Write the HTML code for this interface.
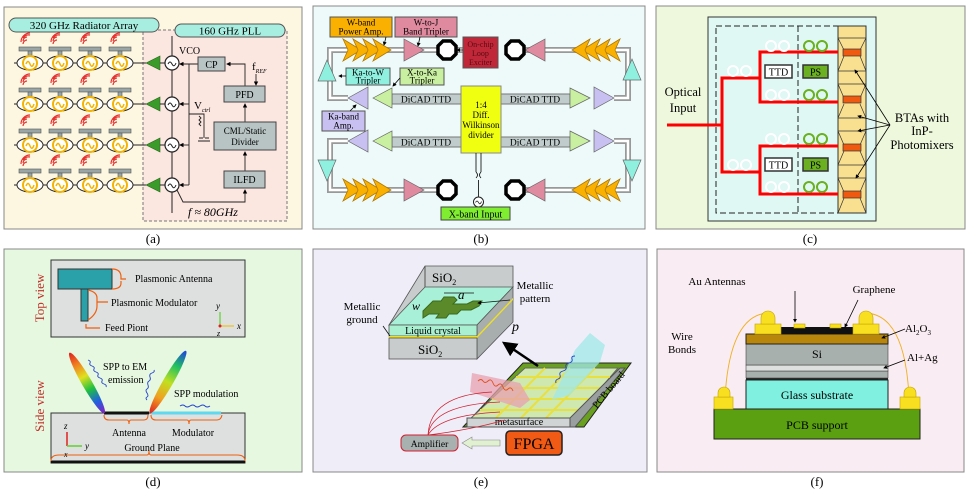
<!DOCTYPE html>
<html><head><meta charset="utf-8"><style>
html,body{margin:0;padding:0;background:#fff;}
svg{display:block;font-family:"Liberation Serif","DejaVu Serif",serif;}
</style></head><body>
<svg width="969" height="492" viewBox="0 0 969 492" xmlns="http://www.w3.org/2000/svg">
<defs>
<g id="osc">
 <path d="M-7,-19 a4,4 0 0 1 4,-4 M-7,-19 m0,-3 a4,4 0 0 1 4,-4 M-7,-25 m0,0 a7,7 0 0 1 7,-3 M-9,-21 a9,9 0 0 1 9,-9" stroke="#e83030" stroke-width="1.2" fill="none"/>
 <rect x="-11" y="-16" width="22" height="4" fill="#9aa6a6" stroke="#555" stroke-width="0.6"/>
 <rect x="-2" y="-12" width="4" height="5" fill="#9aa6a6" stroke="#555" stroke-width="0.6"/>
 <ellipse cx="0" cy="0" rx="13" ry="7" fill="#fff" stroke="#222" stroke-width="1"/>
 <circle cx="0" cy="0" r="7" fill="#fff" stroke="#f5b400" stroke-width="2"/>
 <path d="M-4,1 q2,-5 4,0 t4,-1" stroke="#f5b400" stroke-width="1.5" fill="none"/>
</g>
<g id="vco">
 <circle cx="0" cy="0" r="7" fill="#fff" stroke="#222" stroke-width="1.2"/>
 <path d="M-4,1 q2,-4 4,0 t4,-1" stroke="#222" stroke-width="1" fill="none"/>
</g>
<g id="chevR">
 <path d="M0,-11 L18,0 L0,11 L5,0 Z" fill="#f9b000" stroke="#b07800" stroke-width="0.8"/>
</g>
<g id="oct"><polygon points="-4,-9 4,-9 9,-4 9,4 4,9 -4,9 -9,4 -9,-4" fill="#fff" stroke="#000" stroke-width="3.5"/></g>
<linearGradient id="rb" x1="0" y1="1" x2="0" y2="0">
 <stop offset="0" stop-color="#8a20c0"/><stop offset="0.2" stop-color="#2060e0"/><stop offset="0.4" stop-color="#20c040"/><stop offset="0.6" stop-color="#e0e020"/><stop offset="0.8" stop-color="#f08020"/><stop offset="1" stop-color="#e02020"/>
</linearGradient>
<linearGradient id="rb2" x1="0" y1="1" x2="0" y2="0">
 <stop offset="0" stop-color="#e02020"/><stop offset="0.25" stop-color="#f0a020"/><stop offset="0.5" stop-color="#c0e020"/><stop offset="0.75" stop-color="#20c060"/><stop offset="1" stop-color="#2040e0"/>
</linearGradient>
<marker id="ah" markerWidth="6" markerHeight="6" refX="5" refY="3" orient="auto"><path d="M0,0 L6,3 L0,6 Z" fill="#000"/></marker>
<marker id="ahs" markerWidth="5" markerHeight="5" refX="4" refY="2.5" orient="auto"><path d="M0,0 L5,2.5 L0,5 Z" fill="#000"/></marker>
</defs>

<!-- ================= (a) ================= -->
<rect x="4" y="7" width="298" height="222" fill="#fdf6e0" stroke="#888" stroke-width="1"/>
<rect x="143" y="30" width="144" height="191" fill="#fbe6e0" stroke="#777" stroke-dasharray="3,2"/>
<rect x="9" y="18" width="150" height="14" rx="7" fill="#a8eee0" stroke="#555"/>
<text x="84" y="29" font-size="11" text-anchor="middle">320 GHz Radiator Array</text>
<rect x="175" y="24" width="110" height="13" rx="6.5" fill="#a8eee0" stroke="#555"/>
<text x="230" y="34.5" font-size="11" text-anchor="middle">160 GHz PLL</text>
<g stroke="#222" stroke-width="1">
 <line x1="14" y1="63" x2="146" y2="63"/><line x1="14" y1="104" x2="146" y2="104"/>
 <line x1="14" y1="145" x2="146" y2="145"/><line x1="14" y1="185" x2="146" y2="185"/>
 <line x1="172" y1="36" x2="172" y2="213"/>
</g>
<g>
 <use href="#osc" x="30" y="63"/><use href="#osc" x="60" y="63"/><use href="#osc" x="90" y="63"/><use href="#osc" x="120" y="63"/>
 <use href="#osc" x="30" y="104"/><use href="#osc" x="60" y="104"/><use href="#osc" x="90" y="104"/><use href="#osc" x="120" y="104"/>
 <use href="#osc" x="30" y="145"/><use href="#osc" x="60" y="145"/><use href="#osc" x="90" y="145"/><use href="#osc" x="120" y="145"/>
 <use href="#osc" x="30" y="185"/><use href="#osc" x="60" y="185"/><use href="#osc" x="90" y="185"/><use href="#osc" x="120" y="185"/>
</g>
<g fill="#3a9a2a" stroke="#2a6a1a" stroke-width="0.6">
 <polygon points="146,63 160,56 160,70"/><polygon points="146,104 160,97 160,111"/>
 <polygon points="146,145 160,138 160,152"/><polygon points="146,185 160,178 160,192"/>
</g>
<g stroke="#222" stroke-width="1"><line x1="160" y1="63" x2="165" y2="63"/><line x1="160" y1="104" x2="165" y2="104"/><line x1="160" y1="145" x2="165" y2="145"/><line x1="160" y1="185" x2="165" y2="185"/></g>
<use href="#vco" x="172" y="63"/><use href="#vco" x="172" y="104"/><use href="#vco" x="172" y="145"/><use href="#vco" x="172" y="185"/>
<text x="179" y="54" font-size="10">VCO</text>
<g stroke="#222" stroke-width="0.9" fill="none">
 <line x1="198" y1="64" x2="180" y2="64" marker-end="url(#ahs)"/>
 <line x1="189" y1="64" x2="189" y2="185"/>
 <line x1="189" y1="104" x2="180" y2="104" marker-end="url(#ahs)"/>
 <line x1="189" y1="145" x2="180" y2="145" marker-end="url(#ahs)"/>
 <line x1="189" y1="185" x2="180" y2="185" marker-end="url(#ahs)"/>
 <path d="M245,86 V64 H227" marker-end="url(#ahs)"/>
 <line x1="256" y1="74" x2="256" y2="85" marker-end="url(#ahs)"/>
 <line x1="245" y1="122" x2="245" y2="104" marker-end="url(#ahs)"/>
 <line x1="245" y1="171" x2="245" y2="152" marker-end="url(#ahs)"/>
 <path d="M177,190 L183,202 H245 V190" marker-end="url(#ahs)"/>
 <path d="M189,114 H204 V138 M199,138 h4 M205,138 h4 M198,141 h6 M204,141 h6 M199,116 l2,2 -2,2 2,2 -2,2 2,2"/>
</g>
<rect x="198" y="57" width="27" height="14" fill="#b8c4c4" stroke="#444"/><text x="211.5" y="68" font-size="10" text-anchor="middle">CP</text>
<rect x="224" y="86" width="41" height="16" fill="#b8c4c4" stroke="#444"/><text x="244.5" y="98" font-size="10" text-anchor="middle">PFD</text>
<rect x="214" y="122" width="62" height="28" fill="#b8c4c4" stroke="#444"/><text x="245" y="134" font-size="9" text-anchor="middle">CML/Static</text><text x="245" y="145" font-size="9" text-anchor="middle">Divider</text>
<rect x="224" y="171" width="41" height="17" fill="#b8c4c4" stroke="#444"/><text x="244.5" y="183" font-size="10" text-anchor="middle">ILFD</text>
<text x="252" y="70" font-size="11">f<tspan font-size="6" font-style="italic" dy="3">REF</tspan></text>
<text x="194" y="109" font-size="11">V<tspan font-size="6" font-style="italic" dy="3">ctrl</tspan></text>
<text x="188" y="216" font-size="12" font-style="italic">f ≈ 80GHz</text>
<text x="153" y="243" font-size="13" text-anchor="middle">(a)</text>

<!-- ================= (b) ================= -->
<rect x="313" y="6" width="332" height="223" fill="#eefafa" stroke="#888"/>
<g fill="none">
 <g stroke="#999" stroke-width="6">
  <polyline points="463,50 330,50 330,98 348,98"/><polyline points="515,50 628,50 628,98 614,98"/>
  <polyline points="348,141 330,141 330,190 447,190"/><polyline points="614,141 628,141 628,190 515,190"/>
 </g>
 <g stroke="#fff" stroke-width="2.5">
  <polyline points="463,50 330,50 330,98 348,98"/><polyline points="515,50 628,50 628,98 614,98"/>
  <polyline points="348,141 330,141 330,190 447,190"/><polyline points="614,141 628,141 628,190 515,190"/>
 </g>
</g>
<rect x="392" y="94" width="69" height="10" fill="#c0cccc" stroke="#777"/><text x="426" y="102.5" font-size="9.5" text-anchor="middle">DiCAD TTD</text>
<rect x="501" y="94" width="69" height="10" fill="#c0cccc" stroke="#777"/><text x="535" y="102.5" font-size="9.5" text-anchor="middle">DiCAD TTD</text>
<rect x="392" y="137" width="69" height="10" fill="#c0cccc" stroke="#777"/><text x="426" y="145.5" font-size="9.5" text-anchor="middle">DiCAD TTD</text>
<rect x="501" y="137" width="69" height="10" fill="#c0cccc" stroke="#777"/><text x="535" y="145.5" font-size="9.5" text-anchor="middle">DiCAD TTD</text>
<rect x="461" y="86" width="40" height="67" fill="#f0ff10" stroke="#888"/>
<text x="481" y="108" font-size="9" text-anchor="middle">1:4</text><text x="481" y="118" font-size="9" text-anchor="middle">Diff.</text>
<text x="481" y="128" font-size="9" text-anchor="middle">Wilkinson</text><text x="481" y="138" font-size="9" text-anchor="middle">divider</text>
<use href="#chevR" x="343" y="50"/><use href="#chevR" x="353" y="50"/><use href="#chevR" x="363" y="50"/><use href="#chevR" x="373" y="50"/>
<use href="#chevR" x="343" y="190"/><use href="#chevR" x="353" y="190"/><use href="#chevR" x="363" y="190"/><use href="#chevR" x="373" y="190"/>
<g transform="translate(1188,0) scale(-1,1)"><use href="#chevR" x="568" y="50"/><use href="#chevR" x="578" y="50"/><use href="#chevR" x="588" y="50"/><use href="#chevR" x="598" y="50"/>
<use href="#chevR" x="568" y="190"/><use href="#chevR" x="578" y="190"/><use href="#chevR" x="588" y="190"/><use href="#chevR" x="598" y="190"/></g>
<g fill="#e08aa0" stroke="#666" stroke-width="0.7">
 <polygon points="404,39 424,50 404,61"/><polygon points="404,179 424,190 404,201"/>
 <polygon points="545,39 525,50 545,61"/><polygon points="545,179 525,190 545,201"/>
</g>
<use href="#oct" x="447" y="50"/><use href="#oct" x="515" y="50"/><use href="#oct" x="447" y="190"/><use href="#oct" x="515" y="190"/>
<g fill="#90f0e0" stroke="#666" stroke-width="0.7">
 <polygon points="327,60 318,81 336,81"/><polygon points="632,59 623,80 641,80"/>
 <polygon points="327,181 318,160 336,160"/><polygon points="632,181 623,160 641,160"/>
</g>
<g fill="#c8c0f0" stroke="#666" stroke-width="0.7">
 <polygon points="348,98 368,87 368,109"/><polygon points="614,98 594,87 594,109"/>
 <polygon points="348,141 368,130 368,152"/><polygon points="614,141 594,130 594,152"/>
</g>
<g fill="#c8f0a0" stroke="#666" stroke-width="0.7">
 <polygon points="373,98 392,88 392,108"/><polygon points="590,98 570,88 570,108"/>
 <polygon points="373,141 392,131 392,151"/><polygon points="590,141 570,131 570,151"/>
</g>
<rect x="330" y="17" width="62" height="20" fill="#f9b000" stroke="#555"/><text x="361" y="25.5" font-size="9" text-anchor="middle">W-band</text><text x="361" y="34.5" font-size="9" text-anchor="middle">Power Amp.</text>
<rect x="395" y="17" width="62" height="20" fill="#e08aa0" stroke="#555"/><text x="426" y="25.5" font-size="9" text-anchor="middle">W-to-J</text><text x="426" y="34.5" font-size="9" text-anchor="middle">Band Tripler</text>
<rect x="463" y="37" width="35" height="31" fill="#c0283a" stroke="#555"/><text x="480.5" y="47" font-size="8" fill="#5a0a10" text-anchor="middle">On-chip</text><text x="480.5" y="56" font-size="8" fill="#5a0a10" text-anchor="middle">Loop</text><text x="480.5" y="65" font-size="8" fill="#5a0a10" text-anchor="middle">Exciter</text>
<rect x="346" y="68" width="44" height="17" fill="#90f0e0" stroke="#555"/><text x="368" y="75.5" font-size="9" text-anchor="middle">Ka-to-W</text><text x="368" y="83.5" font-size="9" text-anchor="middle">Tripler</text>
<rect x="400" y="68" width="44" height="17" fill="#c8f0a0" stroke="#555"/><text x="422" y="75.5" font-size="9" text-anchor="middle">X-to-Ka</text><text x="422" y="83.5" font-size="9" text-anchor="middle">Tripler</text>
<rect x="322" y="111" width="43" height="20" fill="#c8c0f0" stroke="#555"/><text x="343.5" y="119.5" font-size="9" text-anchor="middle">Ka-band</text><text x="343.5" y="128.5" font-size="9" text-anchor="middle">Amp.</text>
<g stroke="#000" stroke-width="0.8" fill="none">
 <line x1="386" y1="37" x2="384" y2="45" marker-end="url(#ahs)"/>
 <line x1="420" y1="37" x2="418" y2="46" marker-end="url(#ahs)"/>
 <line x1="463" y1="50" x2="457" y2="50" marker-end="url(#ahs)"/>
 <line x1="346" y1="76" x2="339" y2="76" marker-end="url(#ahs)"/>
 <line x1="400" y1="78" x2="393" y2="86" marker-end="url(#ahs)"/>
 <line x1="350" y1="111" x2="356" y2="105" marker-end="url(#ahs)"/>
 <line x1="476" y1="153" x2="476" y2="172"/><line x1="481" y1="153" x2="481" y2="172"/>
 <path d="M476,172 q3,3 0,6 M481,172 q-3,3 0,6 M478.5,180 V197"/>
</g>
<circle cx="478.5" cy="202" r="5" fill="#fff" stroke="#222"/><path d="M475.5,202.5 q1.5,-3 3,0 t3,-1" stroke="#222" fill="none" stroke-width="0.8"/>
<rect x="441" y="207" width="69" height="13" fill="#80ee30" stroke="#444"/><text x="475.5" y="217.5" font-size="10" text-anchor="middle">X-band Input</text>
<text x="481" y="243" font-size="13" text-anchor="middle">(b)</text>

<!-- ================= (c) ================= -->
<rect x="656" y="6" width="309" height="223" fill="#eef8dc" stroke="#888"/>
<rect x="708" y="17" width="168" height="204" fill="#dff8f4" stroke="#333"/>
<rect x="716" y="26" width="132" height="187" fill="none" stroke="#222" stroke-dasharray="6,3" stroke-width="1"/>
<line x1="798" y1="26" x2="798" y2="213" stroke="#222" stroke-dasharray="6,3"/>
<rect x="838" y="26" width="28" height="187" fill="#f8e090" stroke="#333"/>
<g stroke="#333" stroke-width="0.7" fill="none">
 <path d="M838,38 H866 M838,38 L844,50 M866,38 L860,50 M844,56 L838,71 M860,56 L866,71 M838,71 H866"/>
 <path d="M838,84 H866 L860,98 M860,104 L866,118 H838 L844,104 M844,98 L838,84"/>
 <path d="M838,131 H866 L860,145 M860,151 L866,165 H838 L844,151 M844,145 L838,131"/>
 <path d="M838,178 H866 L860,192 M860,198 L866,213 M838,213 L844,198 M844,192 L838,178"/>
</g>
<g fill="#f05a10" stroke="#333" stroke-width="0.7">
 <rect x="843" y="49" width="18" height="7"/><rect x="843" y="96" width="18" height="7"/>
 <rect x="843" y="144" width="18" height="7"/><rect x="843" y="191" width="18" height="7"/>
</g>
<g stroke="#f00" stroke-width="3" fill="none">
 <path d="M667,125 H722 V78 H760 V52 H838 M760,78 V102 H838"/>
 <path d="M722,125 V172 H760 V146 H838 M760,172 V194 H838"/>
</g>
<g fill="none" stroke-width="2">
 <g stroke="#fff"><circle cx="733" cy="71" r="5"/><circle cx="746" cy="71" r="5"/><circle cx="771" cy="46" r="5"/><circle cx="784" cy="46" r="5"/><circle cx="771" cy="95" r="5"/><circle cx="784" cy="95" r="5"/>
 <circle cx="733" cy="165" r="5"/><circle cx="746" cy="165" r="5"/><circle cx="771" cy="139" r="5"/><circle cx="784" cy="139" r="5"/><circle cx="771" cy="187" r="5"/><circle cx="784" cy="187" r="5"/></g>
 <g stroke="#6ab020"><circle cx="809" cy="46" r="5"/><circle cx="822" cy="46" r="5"/><circle cx="809" cy="95" r="5"/><circle cx="822" cy="95" r="5"/>
 <circle cx="809" cy="139" r="5"/><circle cx="822" cy="139" r="5"/><circle cx="809" cy="187" r="5"/><circle cx="822" cy="187" r="5"/></g>
</g>
<rect x="765" y="65" width="27" height="13" fill="#fff" stroke="#333" stroke-width="1.5"/><text x="778.5" y="75.5" font-size="10" text-anchor="middle">TTD</text>
<rect x="803" y="65" width="25" height="13" fill="#6ab020" stroke="#333" stroke-width="1.5"/><text x="815.5" y="75.5" font-size="10" text-anchor="middle">PS</text>
<rect x="765" y="158" width="27" height="13" fill="#fff" stroke="#333" stroke-width="1.5"/><text x="778.5" y="168.5" font-size="10" text-anchor="middle">TTD</text>
<rect x="803" y="158" width="25" height="13" fill="#6ab020" stroke="#333" stroke-width="1.5"/><text x="815.5" y="168.5" font-size="10" text-anchor="middle">PS</text>
<text x="683" y="96" font-size="12.5" text-anchor="middle">Optical</text><text x="683" y="112" font-size="12.5" text-anchor="middle">Input</text>
<g stroke="#000" stroke-width="0.8" fill="none">
 <line x1="890" y1="125" x2="855" y2="70" marker-end="url(#ahs)"/>
 <line x1="890" y1="125" x2="858" y2="116" marker-end="url(#ahs)"/>
 <line x1="890" y1="125" x2="858" y2="131" marker-end="url(#ahs)"/>
 <line x1="890" y1="125" x2="856" y2="178" marker-end="url(#ahs)"/>
</g>
<text x="922" y="122" font-size="12.5" text-anchor="middle">BTAs with</text>
<text x="922" y="135" font-size="12.5" text-anchor="middle">InP-</text>
<text x="922" y="149" font-size="12.5" text-anchor="middle">Photomixers</text>
<text x="810" y="243" font-size="13" text-anchor="middle">(c)</text>

<!-- ================= (d) ================= -->
<rect x="4" y="249" width="298" height="223" fill="#e6f8e0" stroke="#888"/>
<rect x="51" y="260" width="194" height="77" fill="#dde0de" stroke="#333"/>
<rect x="58" y="269" width="54" height="20" fill="#2aa0a8" stroke="#333"/>
<rect x="81" y="289" width="7" height="32" fill="#2aa0a8" stroke="#333"/>
<g stroke="#f06010" stroke-width="1.2" fill="none">
 <path d="M112,269 q9,0 9,8 v2 h5 M121,281 v2 q0,6 -9,6"/>
 <path d="M88,290 q9,2 9,8 v4 h11 M97,302 v4 q0,8 -9,14"/>
 <path d="M100,328 H86 V324"/>
</g>
<text x="135" y="282" font-size="10">Plasmonic Antenna</text>
<text x="111" y="306" font-size="10">Plasmonic Modulator</text>
<text x="105" y="331" font-size="10">Feed Piont</text>
<text transform="translate(44,298) rotate(-90)" font-size="13" fill="#c0302a" text-anchor="middle">Top view</text>
<g stroke-width="1.2"><line x1="220" y1="326" x2="220" y2="312" stroke="#60d030"/><line x1="220" y1="326" x2="234" y2="326" stroke="#f0c020"/></g>
<circle cx="220" cy="326" r="1.5" fill="#e02020"/>
<text x="216" y="309" font-size="9" font-style="italic">y</text><text x="237" y="329" font-size="9" font-style="italic">x</text><text x="217" y="336" font-size="8" font-style="italic">z</text>
<rect x="51" y="413" width="194" height="50" fill="#dde0de" stroke="#333"/>
<line x1="51" y1="462" x2="245" y2="462" stroke="#111" stroke-width="3"/>
<line x1="104" y1="413" x2="149" y2="413" stroke="#111" stroke-width="3"/>
<line x1="151" y1="413" x2="221" y2="413" stroke="#60d8f0" stroke-width="3"/>
<g stroke="#f06010" stroke-width="1.1" fill="none">
 <path d="M104,415 q0,5 5,5 h18 q2,0 2,4 q0,-4 2,-4 h13 q4,0 4,-5"/>
 <path d="M151,415 q0,5 5,5 h31 q2,0 2,4 q0,-4 2,-4 h26 q4,0 5,-5"/>
 <path d="M51,461 q0,-6 8,-6 h88 q2,0 2,-4 q0,4 2,4 h86 q8,0 8,6"/>
</g>
<text x="129" y="436" font-size="10" text-anchor="middle">Antenna</text>
<text x="193" y="436" font-size="10" text-anchor="middle">Modulator</text>
<text x="152" y="451" font-size="10" text-anchor="middle">Ground Plane</text>
<ellipse cx="0" cy="0" rx="5" ry="35" fill="url(#rb)" transform="translate(87,383) rotate(-30)"/>
<ellipse cx="0" cy="0" rx="5" ry="36" fill="url(#rb2)" transform="translate(168,382) rotate(30)"/>
<g stroke="#2040d0" stroke-width="0.9" fill="none">
 <path d="M88,360 q3,1 2,3 t2,3 t2,3 t2,3 t2,3 t2,3 t2,3 t2,3 t2,3"/>
 <path d="M147,400 q-2,-2 0,-3 t0,-4 t0,-4 t1,-4 t1,-4 t1,-4 t2,-4 t2,-3"/>
 <path d="M210,406 q-3,2 -5,0 t-5,0 t-5,0 t-5,0 t-5,0 t-5,0"/>
</g>
<text x="103" y="370" font-size="10">SPP to EM</text>
<text x="108" y="383" font-size="10">emission</text>
<text x="174" y="397" font-size="10">SPP modulation</text>
<text transform="translate(44,406) rotate(-90)" font-size="13" fill="#c0302a" text-anchor="middle">Side view</text>
<line x1="67" y1="446" x2="67" y2="432" stroke="#e02020" stroke-width="1.5"/><line x1="67" y1="446" x2="82" y2="446" stroke="#60d030" stroke-width="1.5"/>
<text x="64" y="429" font-size="9" font-style="italic">z</text><text x="85" y="449" font-size="9" font-style="italic">y</text><text x="64" y="457" font-size="8" font-style="italic">x</text>
<text x="153" y="486" font-size="13" text-anchor="middle">(d)</text>

<!-- ================= (e) ================= -->
<rect x="313" y="249" width="334" height="223" fill="#efedf8" stroke="#888"/>
<polygon points="389,325 425,266 513,266 513,287 477,325" fill="#c8cccc" stroke="#555" stroke-width="0.8"/>
<line x1="425" y1="266" x2="425" y2="287" stroke="#555"/>
<text x="432" y="282" font-size="13">SiO<tspan font-size="8" dy="3">2</tspan></text>
<polygon points="389,325 425,287 513,287 477,325" fill="#a8f0d8" stroke="#555" stroke-width="0.8"/>
<polygon points="477,325 513,287 513,322 477,359" fill="#a8aeae" stroke="#555" stroke-width="0.8"/>
<rect x="389" y="325" width="88" height="11" fill="#a8f0d0" stroke="#555" stroke-width="0.8"/>
<rect x="389" y="336" width="88" height="2" fill="#f0e020"/>
<rect x="389" y="338" width="88" height="21" fill="#c8cccc" stroke="#555" stroke-width="0.8"/>
<polygon points="477,336 513,298 513,300 477,338" fill="#f0e020"/>
<text x="433" y="334" font-size="10" text-anchor="middle">Liquid crystal</text>
<text x="418" y="354" font-size="13">SiO<tspan font-size="8" dy="3">2</tspan></text>
<path d="M423,311 l10,-10 h8 l3,-4 h10 l3,3 -4,4 h14 l6,-3 h9 l-3,5 -8,4 h-10 l-4,4 h-8 l-3,4 h-10 l3,-4 h-10 l-6,4 z" fill="#5a8a2a" stroke="#3a6a1a"/>
<text x="458" y="299" font-size="13" font-style="italic">a</text>
<text x="412" y="310" font-size="12" font-style="italic">w</text>
<text x="512" y="331" font-size="14" font-style="italic">p</text>
<line x1="444" y1="293" x2="474" y2="293" stroke="#111" stroke-width="0.8"/>
<line x1="510" y1="300" x2="478" y2="303" stroke="#111" stroke-width="0.8" marker-end="url(#ahs)"/>
<text x="535" y="289" font-size="11" text-anchor="middle">Metallic</text>
<text x="535" y="302" font-size="11" text-anchor="middle">pattern</text>
<text x="362" y="310" font-size="11" text-anchor="middle">Metallic</text>
<text x="362" y="323" font-size="11" text-anchor="middle">ground</text>
<line x1="383" y1="326" x2="390" y2="336" stroke="#111" stroke-width="0.8"/>
<polygon points="463,427 523,363 631,363 584,427" fill="#6aa020" stroke="#222"/>
<polygon points="470,419 525,368 618,368 574,419" fill="#cfe8b0" stroke="#666"/>
<g stroke="#e8e040" stroke-width="2">
 <line x1="480" y1="410" x2="580" y2="410"/><line x1="492" y1="399" x2="590" y2="399"/><line x1="504" y1="388" x2="600" y2="388"/><line x1="516" y1="377" x2="610" y2="377"/>
 <line x1="495" y1="419" x2="545" y2="368"/><line x1="520" y1="419" x2="570" y2="368"/><line x1="545" y1="419" x2="595" y2="368"/>
</g>
<polygon points="467,418 570,418 570,427 467,427" fill="#d0d4d4" stroke="#555"/>
<polygon points="570,418 620,368 625,368 575,427 570,427" fill="#9aa0a0" stroke="#555"/>
<text x="519" y="425" font-size="10" text-anchor="middle">metasurface</text>
<text transform="translate(611,392) rotate(-50)" font-size="10" text-anchor="middle">PCB board</text>
<polygon points="472,373 520,383 530,400 520,408 470,392" fill="#e8a0b0" opacity="0.75"/>
<polygon points="575,350 590,333 605,345 600,362 570,395 552,400" fill="#a0e8e8" opacity="0.75"/>
<path d="M478,381 q3,-3 5,0 t5,0 t5,2 t5,2 t5,2 t5,2 t5,2" stroke="#e05020" fill="none" stroke-width="0.9"/>
<path d="M556,383 q-1,-3 2,-4 t2,-4 t3,-4 t3,-4 t3,-4 t3,-4 t3,-3" stroke="#2040d0" fill="none" stroke-width="0.9"/>
<line x1="538" y1="366" x2="504" y2="343" stroke="#000" stroke-width="2.5" marker-end="url(#ah)"/>
<g stroke="#d02030" stroke-width="0.7" fill="none">
 <path d="M428,435 Q430,395 492,392"/><path d="M428,435 Q432,405 500,402"/><path d="M428,435 Q440,415 500,412"/><path d="M428,435 Q470,430 505,420"/>
</g>
<rect x="401" y="435" width="57" height="16" rx="5" fill="#a8b0b0" stroke="#d02030"/>
<text x="429.5" y="447" font-size="9.5" text-anchor="middle">Amplifier</text>
<polygon points="462,443 472,437 472,440 500,440 500,446 472,446 472,449" fill="#e0f0d0" stroke="#888" stroke-width="0.6"/>
<rect x="506" y="431" width="56" height="24" rx="4" fill="#f05a14" stroke="#222" stroke-width="1.5"/>
<text x="534" y="449" font-size="16" text-anchor="middle">FPGA</text>
<text x="481" y="486" font-size="13" text-anchor="middle">(e)</text>

<!-- ================= (f) ================= -->
<rect x="657" y="249" width="307" height="223" fill="#f9ecf2" stroke="#888"/>
<g stroke="#f0b020" stroke-width="0.9" fill="none">
 <path d="M768,313 Q730,315 725,397"/><path d="M866,313 Q905,315 909,397"/>
</g>
<rect x="714" y="409" width="206" height="30" fill="#5aa010" stroke="#222"/>
<text x="817" y="429" font-size="12" text-anchor="middle">PCB support</text>
<rect x="746" y="380" width="142" height="29" fill="#80f0e0" stroke="#222"/>
<text x="817" y="399" font-size="12" text-anchor="middle">Glass substrate</text>
<rect x="746" y="378" width="142" height="2" fill="#222"/>
<rect x="746" y="371" width="142" height="7" fill="#a8b0ae" stroke="#444" stroke-width="0.6"/>
<rect x="746" y="365" width="142" height="6" fill="#dde0de" stroke="#444" stroke-width="0.6"/>
<rect x="746" y="344" width="142" height="21" fill="#a8b0ae" stroke="#444" stroke-width="0.6"/>
<text x="817" y="358" font-size="12" text-anchor="middle">Si</text>
<rect x="746" y="334" width="142" height="10" fill="#b8860b" stroke="#222"/>
<rect x="768" y="327" width="98" height="7" fill="#111"/>
<g fill="#f8e020" stroke="#c0a000" stroke-width="0.6">
 <rect x="755" y="324" width="26" height="10"/><rect x="853" y="324" width="26" height="10"/>
 <path d="M761,324 v-6 a7,7 0 0 1 14,0 v6 z"/><path d="M859,324 v-6 a7,7 0 0 1 14,0 v6 z"/>
 <rect x="794" y="324" width="11" height="4"/><rect x="830" y="324" width="11" height="4"/>
 <rect x="714" y="397" width="19" height="12"/><rect x="900" y="397" width="20" height="12"/>
 <path d="M718,397 v-4 a6,6 0 0 1 12,0 v4 z"/><path d="M904,397 v-4 a6,6 0 0 1 12,0 v4 z"/>
</g>
<text x="717" y="285" font-size="11" text-anchor="middle">Au Antennas</text>
<line x1="795" y1="291" x2="795" y2="322" stroke="#000" stroke-width="0.8" marker-end="url(#ahs)"/>
<text x="874" y="293" font-size="11" text-anchor="middle">Graphene</text>
<line x1="858" y1="300" x2="845" y2="327" stroke="#000" stroke-width="0.8" marker-end="url(#ahs)"/>
<text x="905" y="332" font-size="11">Al<tspan font-size="7" dy="3">2</tspan><tspan dy="-3">O</tspan><tspan font-size="7" dy="3">3</tspan></text>
<line x1="905" y1="329" x2="882" y2="338" stroke="#000" stroke-width="0.8" marker-end="url(#ahs)"/>
<text x="907" y="361" font-size="11">Al+Ag</text>
<line x1="905" y1="360" x2="884" y2="368" stroke="#000" stroke-width="0.8" marker-end="url(#ahs)"/>
<text x="682" y="340" font-size="11" text-anchor="middle">Wire</text>
<text x="682" y="353" font-size="11" text-anchor="middle">Bonds</text>
<text x="817" y="486" font-size="13" text-anchor="middle">(f)</text>
</svg>
</body></html>
